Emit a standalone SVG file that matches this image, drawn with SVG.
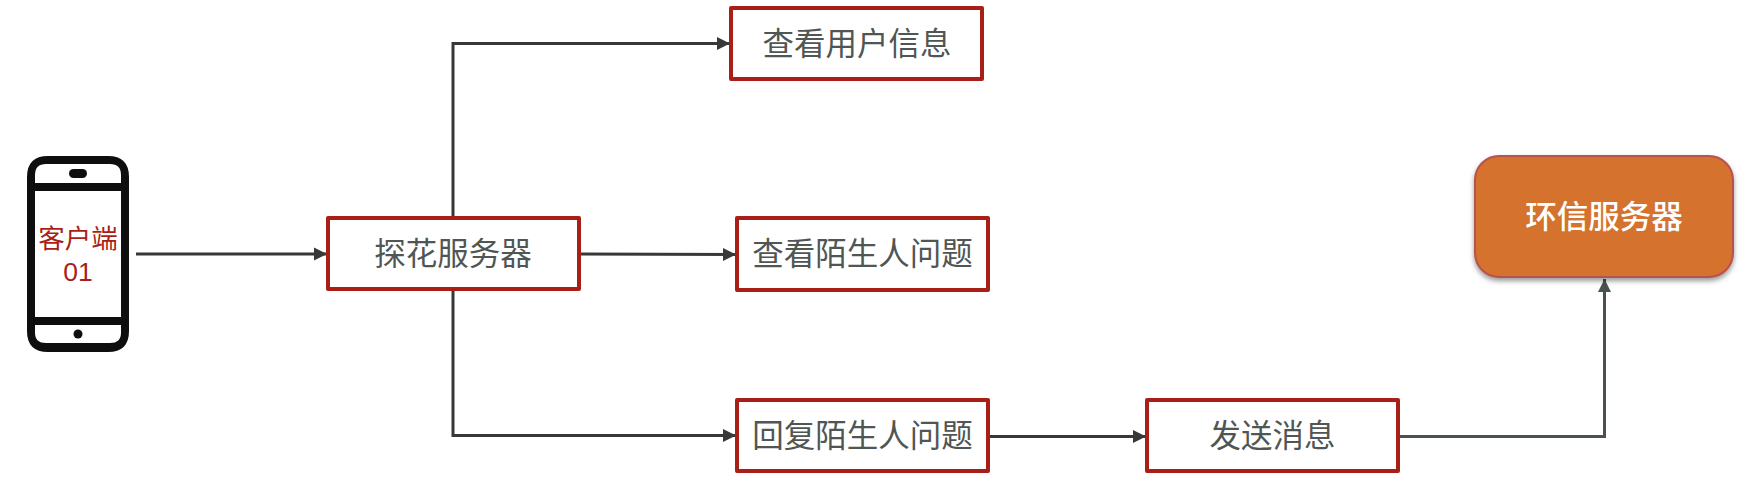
<svg xmlns="http://www.w3.org/2000/svg" width="1758" height="498" viewBox="0 0 1758 498">
<style>
text{font-family:"Noto Sans CJK SC","Noto Sans",sans-serif;text-anchor:middle}
.box{fill:#fff;stroke:#a81f18;stroke-width:4;stroke-linejoin:round}
.lbl{font-size:31.5px;fill:#505654}
.con{fill:none;stroke:#383838;stroke-width:3;stroke-linejoin:miter}
.con2{stroke:#4a5250}
.ph{fill:#0e0e0e}
</style>
<defs>
<marker id="a" markerUnits="userSpaceOnUse" markerWidth="14" markerHeight="14" refX="13" refY="7" orient="auto"><path d="M0 0.5L13 7L0 13.5Z" fill="#383838"/></marker>
<marker id="b" markerUnits="userSpaceOnUse" markerWidth="14" markerHeight="14" refX="13" refY="7" orient="auto"><path d="M0 0.5L13 7L0 13.5Z" fill="#4a5250"/></marker>
<filter id="s" x="-10%" y="-10%" width="120%" height="125%"><feDropShadow dx="0" dy="3" stdDeviation="2.5" flood-color="#000" flood-opacity=".4"/></filter>
</defs>
<rect width="1758" height="498" fill="#fff"/>
<g id="connectors">
<path class="con" marker-end="url(#a)" d="M136 254H327"/>
<path class="con" marker-end="url(#a)" d="M453 216V43.500H730"/>
<path class="con" marker-end="url(#a)" d="M580 254L736 254.500"/>
<path class="con" marker-end="url(#a)" d="M453 290V435.500H736"/>
<path class="con" marker-end="url(#a)" d="M989 436.500H1146"/>
<path class="con con2" marker-end="url(#b)" d="M1399 436.500H1604.500V279"/>
</g>
<g id="client">
<path class="ph" fill-rule="evenodd" d="M48 156H108Q129 156 129 177V331Q129 352 108 352H48Q27 352 27 331V177Q27 156 48 156ZM35 191V317H121V191ZM35 183H121V175Q121 164 110 164H46Q35 164 35 175ZM35 325V333Q35 343 46 343H110Q121 343 121 333V325Z"/>
<rect class="ph" x="69" y="169" width="18" height="9" rx="4.500"/>
<circle class="ph" cx="78" cy="334" r="4.500"/>
<text x="78" y="248" font-size="26.500" fill="#a81f18">客户端</text>
<text x="78" y="280.500" font-size="26.500" fill="#a81f18" style="font-family:'Liberation Sans',sans-serif">01</text>
</g>
<g id="tanhua"><rect class="box" x="328" y="218" width="251" height="71"/><text class="lbl" x="453" y="265">探花服务器</text></g>
<g id="view-user"><rect class="box" x="731" y="8" width="251" height="71"/><text class="lbl" x="857" y="55">查看用户信息</text></g>
<g id="view-question"><rect class="box" x="737" y="218" width="251" height="72"/><text class="lbl" x="862.500" y="265">查看陌生人问题</text></g>
<g id="reply"><rect class="box" x="737" y="400" width="251" height="71"/><text class="lbl" x="862.500" y="447">回复陌生人问题</text></g>
<g id="send"><rect class="box" x="1147" y="400" width="251" height="71"/><text class="lbl" x="1272.500" y="447">发送消息</text></g>
<g id="easemob"><rect x="1475" y="156" width="258" height="121" rx="24" fill="#d4722e" stroke="#b5524f" stroke-width="2" filter="url(#s)"/><text x="1604" y="228" font-size="31.500px" font-weight="500" fill="#fff">环信服务器</text></g>
</svg>
